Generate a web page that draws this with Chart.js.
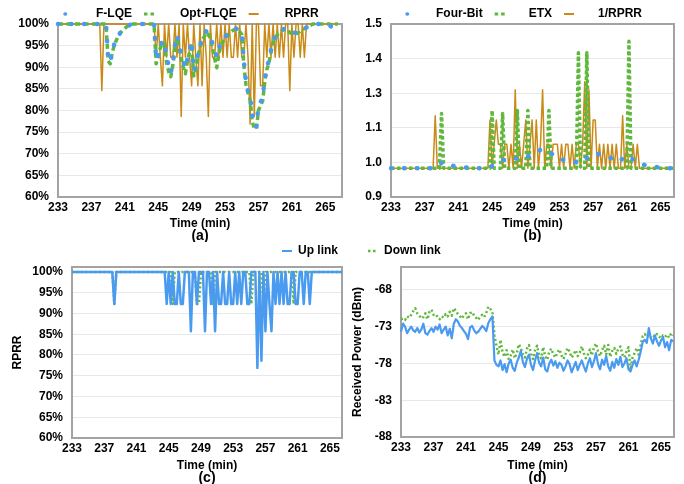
<!DOCTYPE html>
<html>
<head>
<meta charset="utf-8">
<title>Link quality estimators</title>
<script src="https://cdn.jsdelivr.net/npm/chart.js@4.4.1/dist/chart.umd.min.js"></script>
<style>
  html, body { margin: 0; padding: 0; background: #fff; }
  #page { position: relative; width: 684px; height: 484px; overflow: hidden; background: #fff; }
  #page canvas { position: absolute; }
</style>
</head>
<body>
<div id="page">
  <canvas id="chartA" width="344" height="246" style="left:0;top:-4px"></canvas>
  <canvas id="chartB" width="340" height="246" style="left:344px;top:-4px"></canvas>
  <canvas id="chartC" width="344" height="243" style="left:0;top:241px"></canvas>
  <canvas id="chartD" width="346" height="269" style="left:338px;top:215px"></canvas>
</div>
<script>
// one sample every 15 s (0.25 min), 233 -> 266.5 min
const START = 233, STEP = 0.25, COUNT = 135;
const times = Array.from({length: COUNT}, (_, i) => START + i * STEP);

const timeTicks = [233, 237, 241, 245, 249, 253, 257, 261, 265];
const pctTicks = [60, 65, 70, 75, 80, 85, 90, 95, 100];
const ratioTicks = [0.9, 1.02, 1.14, 1.26, 1.38, 1.5];
const dbmTicks = [-88, -83, -78, -73, -68];

// (a) estimators, %
const rprrA = [
  100,100,100,100,100,100,100,100,100,100,
  100,100,100,100,100,100,100,100,100,100,
  100,84.6,100,100,100,100,100,100,100,100,
  100,100,100,100,100,100,100,100,100,100,
  100,100,100,100,100,100,100,92.3,100,92.3,
  85.7,100,92.3,100,92.3,92.3,100,92.3,100,78.6,
  100,92.3,100,92.3,85.7,100,92.3,85.7,100,85.7,
  100,92.3,78.6,100,92.3,92.3,100,92.3,100,92.3,
  100,92.3,100,92.3,92.3,100,92.3,100,92.3,92.3,
  100,92.3,76.9,100,78.6,100,100,85.7,85.7,100,
  92.3,100,92.3,100,92.3,100,92.3,100,92.3,100,
  100,84.6,100,92.3,100,100,92.3,100,92.3,100,
  100,100,100,100,100,100,100,100,100,100,
  100,100,100,100,100
];
const flqeA = [
  100,100,100,100,100,100,100,100,100,100,
  100,100,100,100,100,100,100,100,100,100,
  100,100,100,100,92.2,91.2,93.8,95.4,96.5,97.4,
  98.1,98.7,99.1,99.4,99.7,99.9,100,100,100,100,
  100,100,100,100,100,100,100,91.7,93,95,
  96,96,92,90.6,88.7,91,95,97.4,95,93,
  91.5,89.8,92,94,96,89.1,90.5,93,95,96.6,
  97.5,98.3,98,97,95.5,94,92.4,94,95.8,96.5,
  97,97.6,98,98.5,98.8,99,98.8,98.5,98,91.4,
  86.8,84.5,83.5,78.6,76.3,76.3,80.9,82,82.8,87.3,
  90,91.6,94,96,97,97.8,98.3,98.6,98.8,99,
  98.8,98.3,98,98,98,98,98.5,98.8,99,99.2,
  99.5,99.7,100,100,100,100,100,100,100,100,
  99.6,99.4,99.6,100,100
];
const optA = [
  100,100,100,100,100,100,100,100,100,100,
  100,100,100,100,100,100,100,100,100,100,
  100,100,100,100,91.5,90.8,93.4,95.2,96.3,97.3,
  98,98.6,99,99.4,99.7,99.9,100,100,100,100,
  100,100,100,100,100,100,100,90.8,92.5,94.5,
  95.5,95.5,91,89,87.8,90.5,94.5,96.8,94.5,92,
  90,88.5,91.5,93.5,95.5,88,89.5,92.5,94.5,96.2,
  97,98,97.6,96.5,94.5,92,89.9,93,95.2,96,
  96.8,97.3,97.8,98.3,98.6,98.8,98.6,98.2,97.6,90.5,
  86,84,82.5,77.5,75.8,75.8,80,81.2,82.2,86.5,
  89.5,91,93.5,95.6,96.7,97.5,98,98.4,98.7,98.9,
  98.6,98,97.8,97.8,97.8,97.9,98.4,98.7,98.9,99.2,
  99.5,99.7,100,100,100,100,100,100,100,100,
  100,99.8,100,100,100
];

// (b) estimators, ratio
const fourBit = [
  1,1,1,1,1,1,1,1,1,1,
  1,1,1,1,1,1,1,1,1,1,
  1,1,1.008,1.012,1.018,1.021,1.018,1.014,1.011,1.009,
  1.007,1.006,1.005,1.004,1.003,1.002,1.002,1.001,1,1,
  1,1,1,1,1,1,1.003,1.005,1.008,1.01,
  1.015,1.02,1.024,1.027,1.029,1.031,1.033,1.034,1.035,1.034,
  1.033,1.032,1.032,1.032,1.036,1.04,1.044,1.048,1.052,1.056,
  1.06,1.063,1.064,1.062,1.058,1.055,1.052,1.046,1.04,1.035,
  1.032,1.03,1.028,1.026,1.024,1.023,1.022,1.021,1.02,1.02,
  1.02,1.02,1.028,1.036,1.043,1.046,1.048,1.05,1.05,1.048,
  1.046,1.044,1.042,1.04,1.037,1.033,1.029,1.025,1.021,1.026,
  1.033,1.04,1.043,1.04,1.035,1.03,1.025,1.021,1.018,1.015,
  1.012,1.01,1.009,1.008,1.006,1.005,1.004,1.003,1.003,1.002,
  1.001,1,1,1,1
];
const etx = [
  1,1,1,1,1,1,1,1,1,1,
  1,1,1,1,1,1,1,1,1,1,
  1,1,1,1,1.19,1,1,1,1,1,
  1,1,1,1,1,1,1,1,1,1,
  1,1,1,1,1,1,1,1,1.2,1,
  1,1,1,1.19,1,1,1,1,1,1,
  1.2,1,1,1,1,1.2,1,1,1,1,
  1,1,1,1,1,1.2,1,1,1,1,
  1,1,1,1,1,1,1,1,1,1.4,
  1,1,1,1.4,1,1,1,1,1,1,
  1,1,1,1,1,1,1,1,1,1,
  1,1,1,1.44,1,1,1,1,1,1,
  1,1,1,1,1,1,1,1,1,1,
  1,1,1,1,1
];
const invRprr = [
  1,1,1,1,1,1,1,1,1,1,
  1,1,1,1,1,1,1,1,1,1,
  1,1.182,1,1,1,1,1,1,1,1,
  1,1,1,1,1,1,1,1,1,1,
  1,1,1,1,1,1,1,1.167,1,1.083,
  1.167,1.083,1.083,1,1.083,1.083,1,1.083,1,1.272,
  1,1.083,1,1.083,1.167,1,1.083,1.167,1,1.167,
  1,1.083,1.272,1,1.083,1.083,1,1.083,1.083,1.083,
  1,1.083,1,1.083,1.083,1,1.083,1,1.083,1.083,
  1,1.083,1.3,1,1.272,1,1.167,1.167,1,1.083,
  1,1.083,1,1.083,1,1.083,1,1.083,1,1,
  1.182,1,1.083,1,1,1.083,1,1.083,1,1,
  1,1,1,1,1,1,1,1,1,1,
  1,1,1,1,1
];

// (c) RPRR per link, %
const upC = [
  100,100,100,100,100,100,100,100,100,100,
  100,100,100,100,100,100,100,100,100,100,
  100,92.3,100,100,100,100,100,100,100,100,
  100,100,100,100,100,100,100,100,100,100,
  100,100,100,100,100,100,100,92.3,100,92.3,
  100,92.3,92.3,100,92.3,92.3,100,100,100,85.7,
  100,100,92.3,100,100,100,85.7,100,100,92.3,
  100,85.7,100,92.3,92.3,100,92.3,92.3,100,92.3,
  92.3,100,92.3,100,92.3,100,100,92.3,92.3,100,
  100,100,76.9,100,78.6,100,85.7,100,92.3,85.7,
  100,92.3,100,92.3,100,92.3,100,92.3,92.3,100,
  100,92.3,92.3,100,100,92.3,100,100,92.3,100,
  100,100,100,100,100,100,100,100,100,100,
  100,100,100,100,100
];
const downC = [
  100,100,100,100,100,100,100,100,100,100,
  100,100,100,100,100,100,100,100,100,100,
  100,92.3,100,100,100,100,100,100,100,100,
  100,100,100,100,100,100,100,100,100,100,
  100,100,100,100,100,100,100,100,100,100,
  92.3,100,100,100,100,100,100,100,100,100,
  100,100,92.3,92.3,100,100,100,100,100,100,
  92.3,100,100,100,100,100,100,100,100,100,
  100,100,100,100,100,100,100,100,100,92.3,
  100,100,100,100,100,92.3,100,100,100,100,
  100,100,100,100,100,100,100,100,100,100,
  92.3,100,100,100,100,100,100,100,100,100,
  100,100,100,100,100,100,100,100,100,100,
  100,100,100,100,100
];

// (d) received power, dBm
const upD = [
  -73.7,-72.6,-73.0,-73.9,-73.4,-73.0,-73.5,-73.7,-73.2,-73.8,
  -73.4,-72.6,-73.9,-74.1,-73.6,-73.2,-73.7,-73.0,-73.4,-72.7,
  -73.9,-73.4,-73.0,-74.2,-73.3,-74.6,-72.6,-72.0,-72.3,-72.9,
  -73.2,-73.6,-74.0,-74.7,-73.1,-72.9,-73.5,-73.9,-73.7,-73.3,
  -72.9,-73.2,-73.6,-72.5,-72.0,-71.6,-77.6,-78.2,-78.4,-77.6,
  -78.9,-78.1,-79.2,-78.0,-77.5,-78.6,-79.0,-77.9,-77.2,-76.3,
  -77.8,-78.5,-77.4,-76.8,-78.2,-78.9,-77.6,-76.6,-77.9,-78.4,
  -77.2,-78.8,-79.1,-78.0,-77.5,-78.3,-77.7,-78.6,-77.9,-78.2,
  -79.0,-78.4,-77.6,-78.1,-79.2,-78.5,-77.8,-78.9,-78.2,-77.6,
  -78.4,-79.1,-78.0,-77.3,-78.5,-77.7,-76.6,-78.1,-78.8,-77.5,
  -78.2,-77.0,-78.4,-79.0,-77.8,-78.6,-77.4,-78.2,-77.1,-78.5,
  -78.0,-77.3,-78.8,-79.1,-78.2,-77.6,-78.4,-77.5,-76.4,-75.1,
  -74.8,-75.2,-73.2,-74.6,-75.3,-74.2,-75.0,-75.6,-74.9,-74.4,
  -75.8,-75.1,-76.2,-74.8,-75.0
];
const downD = [
  -72.0,-71.9,-72.1,-71.6,-71.8,-71.4,-70.9,-70.5,-71.2,-71.5,
  -71.9,-71.7,-71.2,-72.0,-71.0,-70.7,-71.4,-71.3,-71.7,-72.0,
  -71.6,-71.8,-71.3,-71.6,-71.0,-71.5,-70.5,-70.8,-71.3,-71.6,
  -71.9,-71.4,-71.2,-72.0,-71.2,-71.0,-71.5,-71.8,-72.1,-71.6,
  -71.4,-71.7,-71.1,-70.3,-70.6,-71.0,-74.2,-75.6,-76.8,-74.8,
  -76.5,-77.1,-76.2,-77.4,-76.9,-76.1,-77.3,-76.6,-75.4,-75.9,
  -76.8,-77.2,-76.0,-75.5,-76.7,-77.4,-76.2,-75.6,-76.9,-77.3,
  -75.8,-77.0,-77.5,-76.4,-76.0,-76.8,-77.2,-76.5,-76.1,-76.9,
  -77.4,-76.7,-75.9,-76.4,-77.2,-76.8,-76.2,-77.0,-76.5,-75.7,
  -76.6,-77.3,-76.8,-76.1,-76.9,-75.8,-75.3,-76.4,-77.0,-76.2,
  -75.6,-76.8,-75.5,-77.1,-76.3,-75.9,-76.7,-76.0,-75.7,-76.8,
  -77.2,-76.4,-75.8,-78.9,-77.2,-76.6,-75.9,-76.8,-75.5,-74.3,
  -74.0,-74.4,-74.1,-74.5,-74.2,-74.4,-74.0,-74.3,-74.6,-74.2,
  -74.4,-74.1,-74.5,-73.9,-74.2
];

const BLUE = '#4a9bf0', GREEN = '#5fb83c', ORANGE = '#c98a17';

Chart.defaults.font.family = "'Liberation Sans', Arial, Helvetica, sans-serif";
Chart.defaults.font.size = 12;
Chart.defaults.font.weight = 'bold';
Chart.defaults.color = '#000';

function pts(values) {
  return values.map((v, i) => ({x: times[i], y: v}));
}

function fixTicks(list) {
  return axis => { axis.ticks = list.map(v => ({value: v})); };
}

// grey box round the plot area, under the lines
const framePlugin = {
  id: 'frame',
  beforeDatasetsDraw(chart) {
    const {ctx, chartArea} = chart;
    const {left, top, right, bottom} = chartArea;
    ctx.save();
    ctx.strokeStyle = '#a3a3a3';
    ctx.lineWidth = 2;
    ctx.strokeRect(left, top, right - left, bottom - top);
    ctx.restore();
  }
};

// legend marks: short pieces at the right end of the legend box (line is drawn right->left)
function legendMarks(chart) {
  const items = Chart.defaults.plugins.legend.labels.generateLabels(chart);
  items.forEach(item => {
    const ds = chart.data.datasets[item.datasetIndex];
    item.pointStyle = 'line';
    item.strokeStyle = ds.borderColor;
    item.fontColor = '#000';
    item.lineDashOffset = 0;
    item.lineCap = 'butt';
    if (ds.mark === 'dot') {
      item.lineWidth = 3.5; item.lineCap = 'round';
      item.lineDash = [0.5, 200]; item.lineDashOffset = -5;
    } else if (ds.mark === 'dash') {
      item.lineWidth = 3; item.lineDash = [3.5, 3, 3.5, 200];
    } else if (ds.mark === 'fine') {
      item.lineWidth = 2.5; item.lineDash = [2.5, 2.5, 2.5, 200];
    } else {
      item.lineWidth = 2; item.lineDash = [10, 200];
    }
  });
  // empty lead entry: pushes the row right so it sits over the plot like the original
  if (chart.options.plugins.legend.leadSpace) {
    items.unshift({text: '', pointStyle: 'line', lineWidth: 0, strokeStyle: 'rgba(0,0,0,0)',
                   fillStyle: 'rgba(0,0,0,0)', hidden: false, datasetIndex: -1});
  }
  return items;
}

function panel(id, o) {
  return new Chart(document.getElementById(id), {
    type: 'line',
    data: {datasets: o.datasets},
    plugins: [framePlugin],
    options: {
      responsive: false,
      animation: false,
      events: [],
      layout: {padding: {right: o.padRight}},
      elements: {
        point: {radius: 0},
        line: {tension: 0, borderJoinStyle: 'round', fill: false}
      },
      scales: {
        x: {
          type: 'linear', min: 233, max: o.xMax,
          afterBuildTicks: fixTicks(timeTicks),
          afterFit: a => { a.height = o.xHeight; },
          grid: {display: false, drawTicks: false},
          border: {display: false},
          ticks: {padding: 0, autoSkip: false, maxRotation: 0, callback: v => String(v),
                  font: {size: 12, weight: 'bold', lineHeight: 1.8}},
          title: {display: true, text: 'Time (min)', padding: 0,
                  font: {size: 12, weight: 'bold', lineHeight: '12px'}}
        },
        y: {
          type: 'linear', min: o.yMin, max: o.yMax,
          afterBuildTicks: fixTicks(o.yTicks),
          afterFit: a => { a.width = o.yWidth; },
          grid: {color: '#e8e8e8', drawTicks: false},
          border: {display: false},
          ticks: {padding: 9, callback: o.yFmt},
          title: o.yTitle
            ? {display: true, text: o.yTitle, padding: {top: o.yTitlePad, bottom: 0},
               font: {size: 12, weight: 'bold', lineHeight: '12px'}}
            : {display: false}
        }
      },
      plugins: {
        tooltip: {enabled: false},
        legend: {
          position: 'top',
          align: o.legendAlign,
          fullSize: o.legendFull,
          maxHeight: o.legendMax,
          leadSpace: !!o.leadSpace,
          labels: {
            usePointStyle: true, pointStyleWidth: o.legendW, padding: o.legendPad,
            font: {size: 12, weight: 'bold'}, color: '#000',
            generateLabels: legendMarks,
            filter: o.legendFilter || (() => true)
          }
        },
        subtitle: {
          display: true, text: o.caption, position: 'bottom', fullSize: false, padding: 0,
          color: '#000', font: {size: 14, weight: 'bold', lineHeight: '12px'}
        }
      }
    }
  });
}

const dots = {borderWidth: 4.5, borderDash: [0.5, 12.5], borderCapStyle: 'round', mark: 'dot'};

panel('chartA', {
  datasets: [
    Object.assign({label: 'F-LQE', data: pts(flqeA), borderColor: BLUE, clip: false}, dots),
    {label: 'Opt-FLQE', data: pts(optA), borderColor: GREEN, borderWidth: 3.5,
     borderDash: [5, 3.5], mark: 'dash', clip: false},
    {label: 'RPRR', data: pts(rprrA), borderColor: ORANGE, borderWidth: 1.5, mark: 'line', clip: false}
  ],
  padRight: 2, xMax: 267, xHeight: 33,
  yMin: 60, yMax: 100, yTicks: pctTicks, yFmt: v => v + '%', yWidth: 58,
  legendAlign: 'start', legendFull: true, legendMax: 28, legendPad: 12, legendW: 30, leadSpace: true,
  caption: '(a)'
});

panel('chartB', {
  datasets: [
    Object.assign({label: 'Four-Bit', data: pts(fourBit), borderColor: BLUE, clip: false}, dots),
    {label: 'ETX', data: pts(etx), borderColor: GREEN, borderWidth: 3.5,
     borderDash: [3.5, 2.5], mark: 'dash', clip: false},
    {label: '1/RPRR', data: pts(invRprr), borderColor: ORANGE, borderWidth: 1.5, mark: 'line', clip: false}
  ],
  padRight: 10, xMax: 266.6, xHeight: 33,
  yMin: 0.9, yMax: 1.5, yTicks: ratioTicks, yFmt: v => v.toFixed(1), yWidth: 47,
  legendAlign: 'start', legendFull: true, legendMax: 28, legendPad: 12, legendW: 28, leadSpace: true,
  caption: '(b)'
});

panel('chartC', {
  datasets: [
    {label: 'Up link', data: pts(upC), borderColor: BLUE, borderWidth: 2.5, mark: 'line', clip: false},
    {label: 'Down link', data: pts(downC), borderColor: GREEN, borderWidth: 2.5,
     borderDash: [2, 2.5], mark: 'fine', clip: false}
  ],
  padRight: 2, xMax: 266.5, xHeight: 34,
  yMin: 60, yMax: 101.2, yTicks: pctTicks, yFmt: v => v + '%', yWidth: 72,
  yTitle: 'RPRR', yTitlePad: 12,
  legendAlign: 'end', legendFull: false, legendMax: 60, legendPad: 4, legendW: 10,
  legendFilter: item => item.datasetIndex === 0,
  caption: '(c)'
});

panel('chartD', {
  datasets: [
    {label: 'Up link', data: pts(upD), borderColor: BLUE, borderWidth: 2.2, mark: 'line', clip: false},
    {label: 'Down link', data: pts(downD), borderColor: GREEN, borderWidth: 2.5,
     borderDash: [2, 2.5], mark: 'fine', clip: false}
  ],
  padRight: 10, xMax: 266.6, xHeight: 35,
  yMin: -88, yMax: -64.9, yTicks: dbmTicks, yFmt: v => String(v), yWidth: 63,
  yTitle: 'Received Power (dBm)', yTitlePad: 14,
  legendAlign: 'start', legendFull: true, legendMax: 80, legendPad: 30, legendW: 10,
  legendFilter: item => item.datasetIndex === 1,
  caption: '(d)'
});
</script>
</body>
</html>
